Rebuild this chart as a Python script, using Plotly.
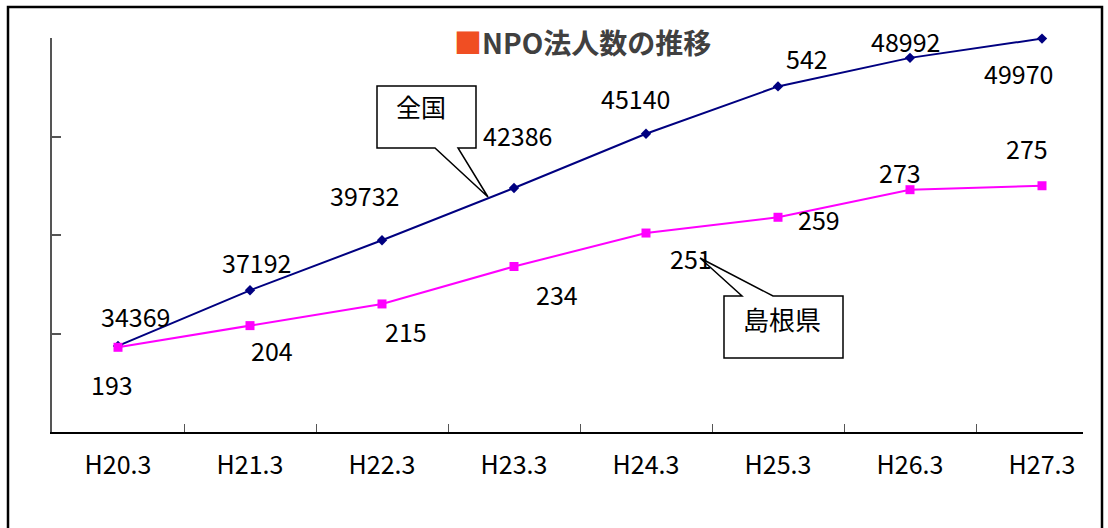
import plotly.graph_objects as go

# Fiscal-year points (Heisei era, end of March)
years = ["H20.3", "H21.3", "H22.3", "H23.3", "H24.3", "H25.3", "H26.3", "H27.3"]

# Number of NPO corporations: nationwide (left axis) and Shimane (right axis)
national = [34369, 37192, 39732, 42386, 45140, 47542, 48992, 49970]
national_text = ["34369", "37192", "39732", "42386", "45140", "542", "48992", "49970"]
shimane = [193, 204, 215, 234, 251, 259, 273, 275]

W, H = 1108, 528
L, R, T, B = 52, 1083, 38, 432  # plot area in pixels


def to_paper(x, y):
    return (x - L) / (R - L), (B - y) / (B - T)


def path(points):
    pts = [to_paper(x, y) for x, y in points]
    return "M " + " L ".join(f"{a:.5f},{b:.5f}" for a, b in pts) + " Z"


FONT = "Noto Sans CJK JP"
NAVY = "#000080"
MAGENTA = "#FF00FF"

fig = go.Figure()
fig.add_trace(go.Scatter(
    x=years, y=national, mode="lines+markers", name="全国",
    line=dict(color=NAVY, width=2),
    marker=dict(symbol="diamond", size=8, color=NAVY),
    cliponaxis=False,
))
fig.add_trace(go.Scatter(
    x=years, y=shimane, mode="lines+markers", name="島根県", yaxis="y2",
    line=dict(color=MAGENTA, width=2),
    marker=dict(symbol="square", size=9, color=MAGENTA),
    cliponaxis=False,
))

annotations = []
# label offsets (pixels) relative to each point
nat_off = [(17, 30), (6, 28), (-18, 45), (3, 53), (-11, 36), (29, 28), (-5, 17), (-24, -34)]
shi_off = [(-6, -37), (22, -24), (24, -27), (43, -27), (45, -25), (41, -2), (-10, 18), (-15, 38)]
for cat, v, txt, (dx, dy) in zip(years, national, national_text, nat_off):
    annotations.append(dict(x=cat, y=v, xref="x", yref="y", text=txt, showarrow=False,
                            xanchor="center", yanchor="middle",
                            xshift=dx, yshift=dy, font=dict(family=FONT, size=25, color="#000")))
for cat, v, (dx, dy) in zip(years, shimane, shi_off):
    annotations.append(dict(x=cat, y=v, xref="x", yref="y2", text=str(v), showarrow=False,
                            xanchor="center", yanchor="middle",
                            xshift=dx, yshift=dy, font=dict(family=FONT, size=25, color="#000")))

# chart title
tx, ty = to_paper(582, 42)
annotations.append(dict(
    x=tx, y=ty, xref="paper", yref="paper", showarrow=False,
    xanchor="center", yanchor="middle",
    text="<span style='color:#F04E23'>■</span><b>NPO法人数の推移</b>",
    font=dict(family=FONT, size=28, color="#404040"),
))

# callout texts
cx, cy = to_paper(421, 106)
annotations.append(dict(x=cx, y=cy, xref="paper", yref="paper", showarrow=False,
                        xanchor="center", yanchor="middle",
                        text="全国", font=dict(family=FONT, size=25, color="#000")))
cx, cy = to_paper(782, 318)
annotations.append(dict(x=cx, y=cy, xref="paper", yref="paper", showarrow=False,
                        xanchor="center", yanchor="middle",
                        text="島根県", font=dict(family=FONT, size=26, color="#000")))

shapes = []
# outer frame
x0, y0 = to_paper(8, 7)
x1, y1 = to_paper(1102, 545)
shapes.append(dict(type="rect", xref="paper", yref="paper", x0=x0, y0=y1, x1=x1, y1=y0,
                   line=dict(color="#000", width=2.5), fillcolor="rgba(0,0,0,0)", layer="below"))
# callout boxes with pointers
shapes.append(dict(type="path", xref="paper", yref="paper",
                   path=path([(377, 86), (476, 86), (476, 148), (458, 148), (488, 197),
                              (435, 148), (377, 148)]),
                   line=dict(color="#000", width=1.5), fillcolor="white", layer="above"))
shapes.append(dict(type="path", xref="paper", yref="paper",
                   path=path([(724, 296), (742, 296), (700, 258), (773, 296), (843, 296),
                              (843, 358), (724, 358)]),
                   line=dict(color="#000", width=1.5), fillcolor="white", layer="above"))

fig.update_layout(
    width=W, height=H,
    margin=dict(l=L, r=W - R, t=T, b=H - B, pad=0),
    paper_bgcolor="white", plot_bgcolor="white",
    showlegend=False,
    font=dict(family=FONT, size=22, color="#000"),
    xaxis=dict(
        type="category", range=[-0.5, -0.5 + (R - L) / 132.0],
        showline=True, linecolor="#000", linewidth=1.5,
        ticks="inside", ticklen=8, tickcolor="#555", tickwidth=1,
        tickson="boundaries", showgrid=False, zeroline=False,
        tickfont=dict(family=FONT, size=25, color="#000"),
        ticklabelstandoff=10,
    ),
    yaxis=dict(
        range=[30000, 50000], tickvals=[30000, 35000, 40000, 45000, 50000],
        showticklabels=False, showline=True, linecolor="#555", linewidth=1.5,
        ticks="inside", ticklen=9, tickcolor="#555", tickwidth=1.5,
        showgrid=False, zeroline=False,
    ),
    yaxis2=dict(
        range=[150, 350], overlaying="y", side="right", visible=False,
        showgrid=False, zeroline=False,
    ),
    annotations=annotations,
    shapes=shapes,
)

fig.write_html("out.html")
